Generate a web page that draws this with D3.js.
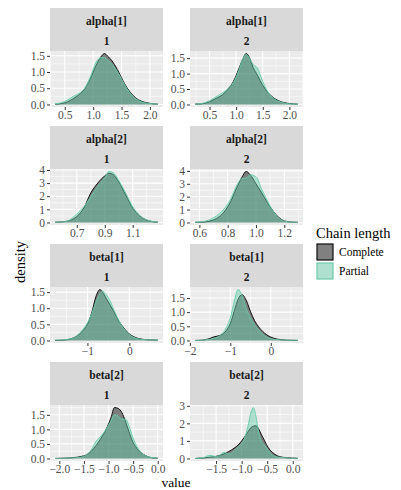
<!DOCTYPE html>
<html>
<head>
<meta charset="utf-8">
<script src="https://cdn.jsdelivr.net/npm/d3@7"></script>
<style>
  body { margin: 0; background: #fff; }
  text { font-family: "Liberation Serif", serif; }
</style>
</head>
<body>
<svg id="chart" width="401" height="490"></svg>
<script>
// facet labels
const params = ["alpha[1]", "alpha[1]", "alpha[2]", "alpha[2]", "beta[1]", "beta[1]", "beta[2]", "beta[2]"];
const chains = ["1", "2", "1", "2", "1", "2", "1", "2"];
const series = ["Complete", "Partial"];

// density evaluation points
const gridX = [
  [0.33, 0.45, 0.55, 0.65, 0.75, 0.85, 0.95, 1.05, 1.15, 1.2, 1.25, 1.35, 1.45, 1.55, 1.65, 1.75, 1.85, 1.95, 2.05, 2.14],
  [0.23, 0.35, 0.45, 0.55, 0.65, 0.75, 0.85, 0.95, 1.05, 1.12, 1.19, 1.25, 1.32, 1.4, 1.5, 1.6, 1.7, 1.8, 1.9, 2.0, 2.16],
  [0.545, 0.6, 0.65, 0.7, 0.75, 0.8, 0.85, 0.9, 0.93, 0.96, 1.0, 1.05, 1.1, 1.15, 1.2, 1.25, 1.28],
  [0.57, 0.62, 0.67, 0.72, 0.77, 0.82, 0.86, 0.9, 0.93, 0.96, 1.0, 1.04, 1.08, 1.12, 1.16, 1.2, 1.25, 1.296],
  [-1.77, -1.6, -1.45, -1.3, -1.15, -1.0, -0.9, -0.8, -0.7, -0.64, -0.55, -0.45, -0.35, -0.25, -0.15, -0.05, 0.1, 0.25, 0.45, 0.68],
  [-1.87, -1.7, -1.55, -1.4, -1.25, -1.1, -1.0, -0.9, -0.81, -0.71, -0.6, -0.5, -0.4, -0.3, -0.2, -0.1, 0.0, 0.15, 0.4, 0.67],
  [-2.085, -1.9, -1.7, -1.55, -1.45, -1.35, -1.25, -1.15, -1.05, -0.95, -0.88, -0.8, -0.73, -0.65, -0.57, -0.5, -0.4, -0.3, -0.2, -0.1, 0.003],
  [-1.91, -1.75, -1.62, -1.5, -1.42, -1.35, -1.25, -1.15, -1.05, -0.95, -0.88, -0.82, -0.77, -0.72, -0.67, -0.62, -0.55, -0.48, -0.4, -0.3, -0.15, 0.0, 0.1]
];

const completeDensity = [
  [0.01, 0.03, 0.08, 0.18, 0.3, 0.48, 0.8, 1.2, 1.5, 1.57, 1.5, 1.3, 1.0, 0.65, 0.38, 0.2, 0.1, 0.05, 0.02, 0.01],
  [0.01, 0.02, 0.06, 0.13, 0.22, 0.32, 0.5, 0.75, 1.15, 1.45, 1.65, 1.52, 1.2, 0.95, 0.62, 0.38, 0.22, 0.12, 0.06, 0.03, 0.01],
  [0.02, 0.05, 0.15, 0.45, 1.1, 2.25, 3.0, 3.55, 3.75, 3.65, 3.1, 2.1, 1.1, 0.5, 0.18, 0.05, 0.02],
  [0.01, 0.03, 0.1, 0.3, 0.75, 1.6, 2.6, 3.5, 3.95, 3.7, 3.0, 2.3, 1.55, 0.9, 0.4, 0.12, 0.03, 0.01],
  [0.0, 0.01, 0.03, 0.1, 0.25, 0.5, 0.85, 1.35, 1.58, 1.5, 1.3, 1.08, 0.85, 0.6, 0.42, 0.26, 0.12, 0.05, 0.02, 0.01],
  [0.0, 0.01, 0.05, 0.13, 0.18, 0.35, 0.6, 1.05, 1.45, 1.62, 1.4, 1.02, 0.7, 0.48, 0.32, 0.2, 0.12, 0.05, 0.01, 0.0],
  [0.0, 0.01, 0.03, 0.07, 0.12, 0.25, 0.45, 0.7, 1.0, 1.4, 1.75, 1.72, 1.58, 1.25, 0.85, 0.55, 0.3, 0.15, 0.06, 0.02, 0.01],
  [0.0, 0.03, 0.07, 0.12, 0.18, 0.25, 0.4, 0.58, 0.82, 1.2, 1.5, 1.75, 1.84, 1.86, 1.7, 1.4, 1.0, 0.62, 0.35, 0.15, 0.05, 0.02, 0.01]
];

const partialDensity = [
  [0.02, 0.06, 0.14, 0.25, 0.34, 0.5, 0.85, 1.3, 1.45, 1.45, 1.38, 1.2, 0.95, 0.62, 0.35, 0.18, 0.08, 0.04, 0.02, 0.01],
  [0.01, 0.03, 0.08, 0.17, 0.28, 0.38, 0.52, 0.72, 1.1, 1.45, 1.62, 1.5, 1.3, 1.18, 0.75, 0.4, 0.2, 0.1, 0.05, 0.02, 0.01],
  [0.02, 0.05, 0.2, 0.65, 1.2, 1.95, 2.75, 3.4, 3.88, 3.8, 3.2, 2.25, 1.2, 0.55, 0.2, 0.06, 0.02],
  [0.02, 0.06, 0.2, 0.5, 1.0, 1.8, 2.8, 3.4, 3.45, 3.7, 3.55, 2.6, 1.7, 0.9, 0.35, 0.1, 0.03, 0.01],
  [0.01, 0.02, 0.04, 0.1, 0.28, 0.55, 0.82, 1.18, 1.45, 1.53, 1.42, 1.2, 0.9, 0.62, 0.4, 0.24, 0.1, 0.04, 0.02, 0.01],
  [0.0, 0.01, 0.03, 0.08, 0.18, 0.45, 0.8, 1.4, 1.8, 1.6, 1.1, 0.8, 0.55, 0.38, 0.22, 0.12, 0.06, 0.03, 0.01, 0.01],
  [0.0, 0.01, 0.02, 0.05, 0.12, 0.3, 0.6, 0.78, 1.0, 1.3, 1.5, 1.45, 1.35, 1.35, 1.05, 0.7, 0.35, 0.15, 0.06, 0.03, 0.01],
  [0.0, 0.05, 0.18, 0.1, 0.2, 0.35, 0.25, 0.4, 0.7, 1.1, 1.8, 2.6, 2.9, 2.4, 1.55, 1.0, 0.75, 0.45, 0.2, 0.08, 0.04, 0.01, 0.01]
];

// axis breaks
const xTicks = [
  [0.5, 1.0, 1.5, 2.0], [0.5, 1.0, 1.5, 2.0], [0.7, 0.9, 1.1], [0.6, 0.8, 1.0, 1.2],
  [-1, 0], [-2, -1, 0], [-2.0, -1.5, -1.0, -0.5, 0.0], [-1.5, -1.0, -0.5, 0.0]
];
const yTicks = [
  [0, 0.5, 1, 1.5], [0, 0.5, 1, 1.5], [0, 1, 2, 3, 4], [0, 1, 2, 3, 4],
  [0, 0.5, 1, 1.5], [0, 0.5, 1, 1.5], [0, 0.5, 1, 1.5], [0, 1, 2, 3]
];
const xFormats = [".1f", ".1f", ".1f", ".1f", "d", "d", ".1f", ".1f"];
const yFormats = [".1f", ".1f", "d", "d", ".1f", ".1f", ".1f", "d"];

const colors = { Complete: "#000000", Partial: "#66CDAA" };
const serif = "'Liberation Serif', serif";

// layout
const colLeft = [50, 190];
const rowTop = [8, 126, 244, 362];
const panelW = 113, stripH = 43, plotH = 56;

const svg = d3.select("#chart");

// minor breaks halfway between majors, extended one step past each end
function minorBreaks(ticks, domain) {
  const step = ticks.length > 1 ? ticks[1] - ticks[0] : 1;
  const out = [];
  for (let i = -1; i < ticks.length; i++) {
    const m = ticks[0] + (i + 0.5) * step;
    if (m > domain[0] && m < domain[1]) out.push(m);
  }
  return out;
}

params.forEach((p, i) => {
  const col = i % 2, row = Math.floor(i / 2);
  const left = colLeft[col];
  const top = rowTop[row] + stripH;
  const g = svg.append("g");

  const xs = gridX[i];
  const ext = d3.extent(xs);
  const pad = (ext[1] - ext[0]) * 0.05;
  const x = d3.scaleLinear().domain([ext[0] - pad, ext[1] + pad]).range([left, left + panelW]);

  const ymax = d3.max(completeDensity[i].concat(partialDensity[i]));
  const y = d3.scaleLinear().domain([-0.05 * ymax, 1.05 * ymax]).range([top + plotH, top]);

  // strip
  g.append("rect").attr("x", left).attr("y", rowTop[row]).attr("width", panelW).attr("height", stripH)
    .attr("fill", "#D9D9D9");
  g.append("text").attr("x", left + panelW / 2).attr("y", rowTop[row] + 17)
    .attr("text-anchor", "middle").attr("font-size", 11.5).attr("font-weight", "bold")
    .attr("fill", "#1A1A1A").text(p);
  g.append("text").attr("x", left + panelW / 2).attr("y", rowTop[row] + 37)
    .attr("text-anchor", "middle").attr("font-size", 11.5).attr("font-weight", "bold")
    .attr("fill", "#1A1A1A").text(chains[i]);

  // panel background and grid
  g.append("rect").attr("x", left).attr("y", top).attr("width", panelW).attr("height", plotH)
    .attr("fill", "#EBEBEB");
  const xMinor = minorBreaks(xTicks[i], x.domain());
  const yMinor = minorBreaks(yTicks[i], y.domain());
  g.selectAll(".xminor").data(xMinor).join("line")
    .attr("x1", d => x(d)).attr("x2", d => x(d)).attr("y1", top).attr("y2", top + plotH)
    .attr("stroke", "#fff").attr("stroke-width", 0.55);
  g.selectAll(".yminor").data(yMinor).join("line")
    .attr("y1", d => y(d)).attr("y2", d => y(d)).attr("x1", left).attr("x2", left + panelW)
    .attr("stroke", "#fff").attr("stroke-width", 0.55);
  g.selectAll(".xmajor").data(xTicks[i]).join("line")
    .attr("x1", d => x(d)).attr("x2", d => x(d)).attr("y1", top).attr("y2", top + plotH)
    .attr("stroke", "#fff").attr("stroke-width", 1.1);
  g.selectAll(".ymajor").data(yTicks[i]).join("line")
    .attr("y1", d => y(d)).attr("y2", d => y(d)).attr("x1", left).attr("x2", left + panelW)
    .attr("stroke", "#fff").attr("stroke-width", 1.1);

  // densities: complete first, partial on top
  const dens = [completeDensity[i], partialDensity[i]];
  series.forEach((s, k) => {
    const pts = xs.map((v, j) => [v, dens[k][j]]);
    const area = d3.area().x(d => x(d[0])).y0(y(0)).y1(d => y(d[1])).curve(d3.curveMonotoneX);
    const line = d3.line().x(d => x(d[0])).y(d => y(d[1])).curve(d3.curveMonotoneX);
    g.append("path").datum(pts).attr("d", area)
      .attr("fill", colors[s]).attr("fill-opacity", 0.47);
    g.append("path").datum(pts).attr("d", line)
      .attr("fill", "none").attr("stroke", colors[s]).attr("stroke-width", 0.9);
  });

  // axes
  const xAxis = d3.axisBottom(x).tickValues(xTicks[i]).tickFormat(d3.format(xFormats[i]))
    .tickSize(3).tickPadding(1);
  const yAxis = d3.axisLeft(y).tickValues(yTicks[i]).tickFormat(d3.format(yFormats[i]))
    .tickSize(3).tickPadding(2);
  const ax = g.append("g").attr("transform", `translate(0,${top + plotH})`).call(xAxis);
  const ay = g.append("g").attr("transform", `translate(${left},0)`).call(yAxis);
  [ax, ay].forEach(a => {
    a.attr("font-family", serif).attr("font-size", 11.5);
    a.select(".domain").remove();
    a.selectAll(".tick line").attr("stroke", "#333333").attr("stroke-width", 1);
    a.selectAll(".tick text").attr("fill", "#4D4D4D");
  });
});

// axis titles
svg.append("text").attr("x", 176).attr("y", 486.5).attr("text-anchor", "middle")
  .attr("font-size", 13.5).attr("fill", "#000").text("value");
svg.append("text").attr("transform", "translate(25,262) rotate(-90)").attr("text-anchor", "middle")
  .attr("font-size", 14.5).attr("fill", "#000").text("density");

// legend
const legend = svg.append("g").attr("transform", "translate(316,0)");
legend.append("text").attr("x", 0).attr("y", 238).attr("font-size", 14.5).text("Chain length");
series.forEach((s, k) => {
  const ky = 243 + k * 19;
  legend.append("rect").attr("x", 0).attr("y", ky).attr("width", 18).attr("height", 18).attr("fill", "#F2F2F2");
  legend.append("rect").attr("x", 1).attr("y", ky + 1).attr("width", 16).attr("height", 16)
    .attr("fill", colors[s]).attr("fill-opacity", 0.47)
    .attr("stroke", colors[s]).attr("stroke-width", 1.1);
  legend.append("text").attr("x", 23).attr("y", ky + 13).attr("font-size", 11.5).text(s);
});
</script>
</body>
</html>
